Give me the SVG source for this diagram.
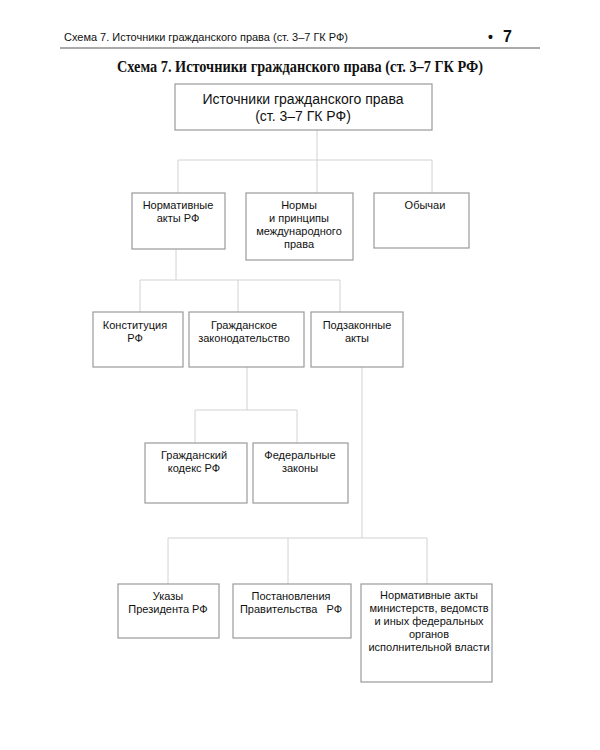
<svg xmlns="http://www.w3.org/2000/svg" width="600" height="750" viewBox="0 0 600 750">
<style>
.box{fill:#fff;stroke:#9a9a9a;stroke-width:1.2}
.t{font-family:"Liberation Sans",Arial,sans-serif;font-size:11px;fill:#111;text-anchor:middle}
.big{font-size:14px}
.con line{stroke:#d2d2d2;stroke-width:1}
</style>
<rect width="600" height="750" fill="#fff"/>
<g id="header">
<text x="64" y="41" style="font-family:'Liberation Sans',sans-serif;font-size:11px;fill:#111" textLength="284" lengthAdjust="spacingAndGlyphs">Схема 7. Источники гражданского права (ст. 3–7 ГК РФ)</text>
<text x="488" y="42" style="font-family:'Liberation Sans',sans-serif;font-size:14px;font-weight:bold;fill:#111">•</text>
<text x="503" y="42" style="font-family:'Liberation Sans',sans-serif;font-size:16px;font-weight:bold;fill:#111">7</text>
<line x1="60" y1="48" x2="540" y2="48" stroke="#555" stroke-width="1"/>
</g>
<text id="title" x="300" y="72" text-anchor="middle" style="font-family:'Liberation Serif',serif;font-size:16.5px;font-weight:bold;fill:#111" textLength="366" lengthAdjust="spacingAndGlyphs">Схема 7. Источники гражданского права (ст. 3–7 ГК РФ)</text>
<g class="con" id="connectors">
<line x1="317" y1="130" x2="317" y2="160"/>
<line x1="178" y1="160" x2="432" y2="160"/>
<line x1="178" y1="160" x2="178" y2="193"/>
<line x1="317" y1="160" x2="317" y2="193"/>
<line x1="432" y1="160" x2="432" y2="193"/>
<line x1="176" y1="249" x2="176" y2="280"/>
<line x1="140" y1="280" x2="340" y2="280"/>
<line x1="140" y1="280" x2="140" y2="312"/>
<line x1="238" y1="280" x2="238" y2="312"/>
<line x1="340" y1="280" x2="340" y2="312"/>
<line x1="247" y1="367" x2="247" y2="410"/>
<line x1="195" y1="410" x2="297" y2="410"/>
<line x1="195" y1="410" x2="195" y2="443"/>
<line x1="297" y1="410" x2="297" y2="443"/>
<line x1="362" y1="367" x2="362" y2="538"/>
<line x1="168" y1="538" x2="427" y2="538"/>
<line x1="168" y1="538" x2="168" y2="584"/>
<line x1="288" y1="538" x2="288" y2="584"/>
<line x1="427" y1="538" x2="427" y2="584"/>
</g>
<g id="n-root"><rect class="box" x="175" y="84" width="257" height="46"/>
<text class="t big" x="303" y="104">Источники гражданского права</text>
<text class="t big" x="303" y="121">(ст. 3–7 ГК РФ)</text></g>
<g id="n-npa"><rect class="box" x="132" y="193" width="93" height="56"/>
<text class="t" x="178" y="209">Нормативные</text>
<text class="t" x="178" y="222">акты РФ</text></g>
<g id="n-norms"><rect class="box" x="246" y="193" width="107" height="67"/>
<text class="t" x="299" y="209">Нормы</text>
<text class="t" x="299" y="222">и принципы</text>
<text class="t" x="299" y="235">международного</text>
<text class="t" x="299" y="248">права</text></g>
<g id="n-custom"><rect class="box" x="374" y="193" width="95" height="55"/>
<text class="t" x="425" y="209">Обычаи</text></g>
<g id="n-const"><rect class="box" x="93" y="312" width="90" height="55"/>
<text class="t" x="135" y="329">Конституция</text>
<text class="t" x="135" y="342">РФ</text></g>
<g id="n-civleg"><rect class="box" x="189" y="312" width="115" height="55"/>
<text class="t" x="244" y="329">Гражданское</text>
<text class="t" x="244" y="342">законодательство</text></g>
<g id="n-sub"><rect class="box" x="311" y="312" width="92" height="55"/>
<text class="t" x="357" y="329">Подзаконные</text>
<text class="t" x="357" y="342">акты</text></g>
<g id="n-gk"><rect class="box" x="145" y="443" width="102" height="60"/>
<text class="t" x="194" y="459">Гражданский</text>
<text class="t" x="194" y="472">кодекс РФ</text></g>
<g id="n-fz"><rect class="box" x="253" y="443" width="95" height="60"/>
<text class="t" x="300" y="459">Федеральные</text>
<text class="t" x="300" y="472">законы</text></g>
<g id="n-ukaz"><rect class="box" x="118" y="584" width="101" height="54"/>
<text class="t" x="168" y="600">Указы</text>
<text class="t" x="168" y="613">Президента РФ</text></g>
<g id="n-post"><rect class="box" x="233" y="584" width="118" height="54"/>
<text class="t" x="291" y="600">Постановления</text>
<text class="t" x="291" y="613" xml:space="preserve">Правительства   РФ</text></g>
<g id="n-min"><rect class="box" x="361" y="584" width="131" height="98"/>
<text class="t" x="429" y="599">Нормативные акты</text>
<text class="t" x="429" y="612">министерств, ведомств</text>
<text class="t" x="429" y="625">и иных федеральных</text>
<text class="t" x="429" y="638">органов</text>
<text class="t" x="429" y="651">исполнительной власти</text></g>
</svg>
